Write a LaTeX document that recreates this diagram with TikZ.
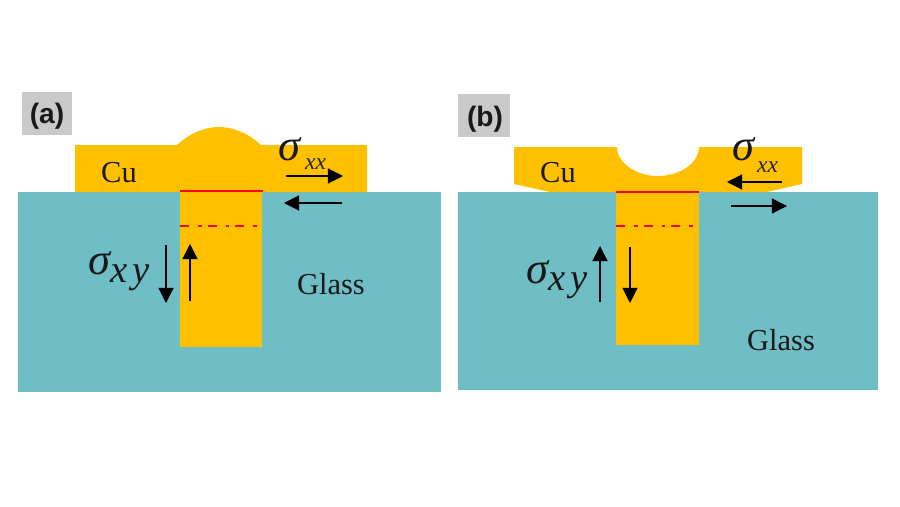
\documentclass[tikz,border=0pt]{standalone}
\usepackage{fontspec}
\setmainfont{Liberation Serif}
\newfontfamily\tagfont{Liberation Sans}
\usetikzlibrary{arrows.meta}
\definecolor{glassc}{HTML}{6FBDC5}
\definecolor{cuc}{HTML}{FFC000}
\definecolor{tagc}{HTML}{C9C9C9}
\tikzset{
    stress/.style={line width=1pt,-{Triangle[length=13pt,width=13pt]}},
    bond/.style={red,line width=2.4pt},
    bondmid/.style={red,line width=2.4pt,dash pattern=on 8pt off 7.5pt on 3pt off 5pt},
    tag/.style={font=\tagfont\bfseries\fontsize{24}{28}\selectfont,text=black!90},
    material/.style={font=\fontsize{26}{30}\selectfont,text=black!90},
    sigmalabel/.style={font=\itshape\fontsize{38}{42}\selectfont,text=black!90,inner sep=0pt,anchor=base west},
    sublabel/.style={font=\itshape\fontsize{20}{24}\selectfont,text=black!85,inner sep=0pt,anchor=base west},
    sublabelbig/.style={font=\itshape\fontsize{33}{36}\selectfont\addfontfeature{LetterSpace=12},text=black!90,inner sep=0pt,anchor=base west},
}
\begin{document}
\begin{tikzpicture}[x=0.03cm,y=-0.03cm]
    \useasboundingbox (0,0) rectangle (900,506);

    % panel (a)
    \fill[glassc] (18,192) rectangle (441,392);
    \fill[cuc] (75,145) -- (177,145) .. controls (190,133) and (205,127) .. (219,127)
        .. controls (233,127) and (248,133) .. (261,145) -- (367,145) -- (367,192) -- (75,192) -- cycle;
    \fill[cuc] (180,192) rectangle (262,347);
    \draw[bond] (180,191) -- (263,191);
    \draw[bondmid] (180,226) -- (257,226);

    \draw[stress] (286,176) -- (343,176);
    \draw[stress] (342,203) -- (284,203);
    \draw[stress] (166,245) -- (166,303);
    \draw[stress] (190,301) -- (190,244);

    \fill[tagc] (22,92) rectangle (72,135);
    \node[tag] (taga) at (47,116) {(a)};
    \node[material] (cua) at (119,173) {Cu};
    \node[material] (glassa) at (331,284) {Glass};
    \node[sigmalabel] (sxxa) at (278,160) {σ};
    \node[sublabel] (subxxa) at (305,169) {xx};
    \node[sigmalabel] (sxya) at (88,274) {σ};
    \node[sublabelbig] (subxya) at (110,282) {xy};

    % panel (b)
    \fill[glassc] (458,192) rectangle (878,390);
    \fill[cuc] (514,147) -- (617,147) .. controls (617,163) and (636,176) .. (658,176)
        .. controls (680,176) and (699,163) .. (699,147) -- (802,147) -- (802,184) -- (767,192)
        -- (550,192) -- (514,184) -- cycle;
    \fill[cuc] (616,192) rectangle (699,345);
    \draw[bond] (616,192) -- (699,192);
    \draw[bondmid] (616,226) -- (693,226);

    \draw[stress] (782,182) -- (727,182);
    \draw[stress] (731,206) -- (787,206);
    \draw[stress] (600,302) -- (600,246);
    \draw[stress] (630,247) -- (630,303);

    \fill[tagc] (458,94) rectangle (510,137);
    \node[tag] (tagb) at (485,119) {(b)};
    \node[material] (cub) at (558,173) {Cu};
    \node[material] (glassb) at (781,340) {Glass};
    \node[sigmalabel] (sxxb) at (732,160) {σ};
    \node[sublabel] (subxxb) at (757,172) {xx};
    \node[sigmalabel] (sxyb) at (526,283) {σ};
    \node[sublabelbig] (subxyb) at (548,290) {xy};
\end{tikzpicture}
\end{document}
